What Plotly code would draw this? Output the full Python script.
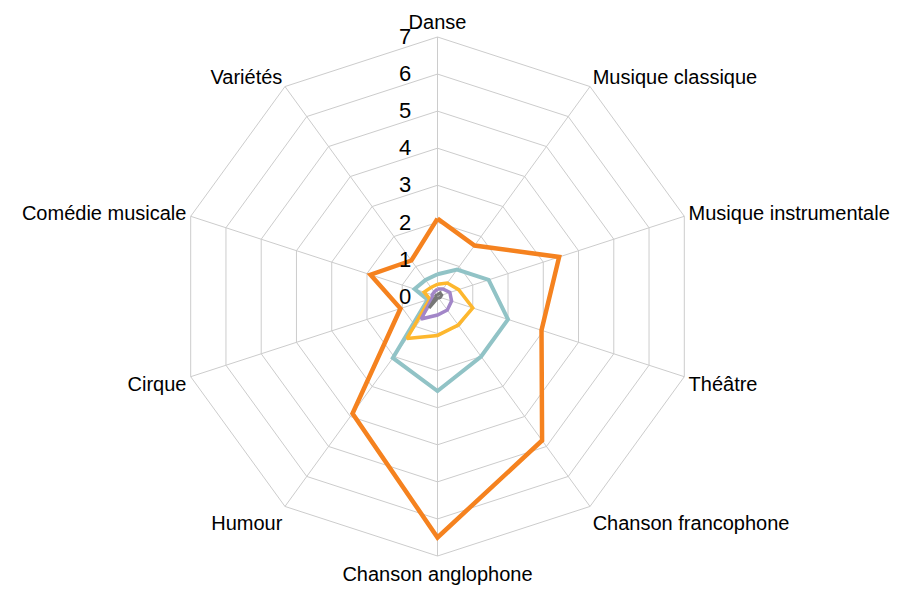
import plotly.graph_objects as go

categories = ["Danse", "Musique classique", "Musique instrumentale", "Théâtre",
              "Chanson francophone", "Chanson anglophone", "Humour", "Cirque",
              "Comédie musicale", "Variétés"]

serie_orange = [2.1, 1.7, 3.45, 2.95, 4.8, 6.5, 3.9, 1.05, 1.9, 1.2]
serie_bleu = [0.6, 0.9, 1.45, 2.0, 2.0, 2.55, 2.05, 0.28, 0.65, 0.55]
serie_jaune = [0.33, 0.45, 0.6, 1.0, 0.95, 1.05, 1.4, 0.22, 0.38, 0.3]
serie_violet = [0.2, 0.25, 0.35, 0.4, 0.45, 0.5, 0.75, 0.15, 0.15, 0.15]
serie_gris = [0.05, 0.12, 0.12, 0.08, 0.05, 0.05, 0.38, 0.05, 0.05, 0.05]

radial_ticks = [0, 1, 2, 3, 4, 5, 6, 7]

series = [
    (serie_orange, "#F5821F", 4.5),
    (serie_bleu, "#91C3C6", 4),
    (serie_jaune, "#FDB72E", 3.5),
    (serie_violet, "#A286C8", 3.5),
    (serie_gris, "#777777", 3),
]

fig = go.Figure()
for vals, color, w in series:
    fig.add_trace(go.Scatterpolar(
        r=vals + vals[:1],
        theta=categories + categories[:1],
        mode="lines",
        line=dict(color=color, width=w),
        showlegend=False,
        hoverinfo="skip",
    ))

fig.update_layout(
    width=902, height=592,
    paper_bgcolor="white",
    plot_bgcolor="white",
    margin=dict(l=10, r=52.6, t=28.7, b=43.9),
    font=dict(family="Liberation Sans, Arial, sans-serif", color="black"),
    polar=dict(
        bgcolor="white",
        gridshape="linear",
        radialaxis=dict(
            range=[0, 7],
            tickvals=radial_ticks,
            angle=90,
            tickangle=90,
            showline=False,
            gridcolor="#cccccc",
            gridwidth=1,
            ticks="outside",
            ticklen=18,
            tickcolor="rgba(0,0,0,0)",
            tickfont=dict(size=22, color="black"),
            side="counterclockwise",
        ),
        angularaxis=dict(
            direction="clockwise",
            rotation=90,
            gridcolor="#cccccc",
            gridwidth=1,
            showline=True,
            linecolor="#cccccc",
            linewidth=1,
            ticks="",
            tickfont=dict(size=20, color="black"),
        ),
    ),
)

fig.write_html("out.html")
